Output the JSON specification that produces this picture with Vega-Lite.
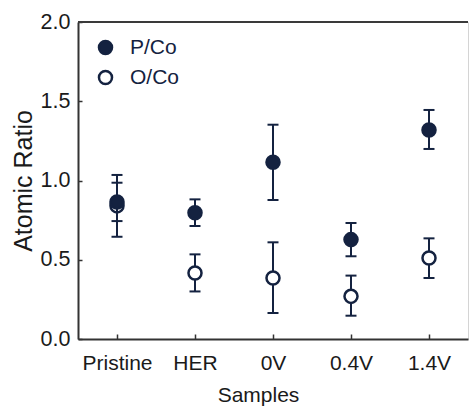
{
  "$schema": "https://vega.github.io/schema/vega-lite/v6.json",
  "width": 390,
  "height": 317,
  "autosize": {"type": "none"},
  "padding": {"left": 78, "top": 22, "right": 1, "bottom": 69},
  "config": {
    "font": "Liberation Sans",
    "view": {"stroke": "#d4d4d4", "strokeWidth": 1}
  },
  "data": {
    "values": [
      {"sample": "Pristine", "series": "P/Co", "value": 0.865, "lo": 0.744, "hi": 0.986},
      {"sample": "HER", "series": "P/Co", "value": 0.797, "lo": 0.713, "hi": 0.881},
      {"sample": "0V", "series": "P/Co", "value": 1.115, "lo": 0.877, "hi": 1.352},
      {"sample": "0.4V", "series": "P/Co", "value": 0.627, "lo": 0.522, "hi": 0.732},
      {"sample": "1.4V", "series": "P/Co", "value": 1.319, "lo": 1.199, "hi": 1.445},
      {"sample": "Pristine", "series": "O/Co", "value": 0.84, "lo": 0.645, "hi": 1.035},
      {"sample": "HER", "series": "O/Co", "value": 0.416, "lo": 0.3, "hi": 0.534},
      {"sample": "0V", "series": "O/Co", "value": 0.385, "lo": 0.164, "hi": 0.61},
      {"sample": "0.4V", "series": "O/Co", "value": 0.269, "lo": 0.147, "hi": 0.4},
      {"sample": "1.4V", "series": "O/Co", "value": 0.511, "lo": 0.385, "hi": 0.635}
    ]
  },
  "encoding": {
    "x": {
      "field": "sample",
      "type": "nominal",
      "sort": ["Pristine", "HER", "0V", "0.4V", "1.4V"],
      "scale": {"type": "point", "padding": 0.5},
      "axis": {
        "labelAngle": 0,
        "labelFontSize": 21,
        "labelColor": "#1a1a1a",
        "labelPadding": 18,
        "tickSize": -5,
        "tickColor": "#333333",
        "tickWidth": 1.5,
        "domainColor": "#333333",
        "domainWidth": 2,
        "title": "Samples",
        "titleFontSize": 21,
        "titleFontWeight": "normal",
        "titleColor": "#1a1a1a",
        "titleX": 180,
        "titlePadding": 11
      }
    }
  },
  "layer": [
    {
      "mark": {"type": "rule", "color": "#3a3a3a", "strokeWidth": 2},
      "encoding": {
        "x": null,
        "y": {
          "datum": 2,
          "type": "quantitative",
          "title": "Atomic Ratio",
          "scale": {"domain": [0, 2], "nice": false, "zero": true},
          "axis": {
            "values": [0, 0.25, 0.5, 0.75, 1, 1.25, 1.5, 1.75, 2],
            "labelExpr": "(datum.value * 2) % 1 == 0 ? format(datum.value, '.1f') : ''",
            "labelFontSize": 21.5,
            "labelColor": "#1a1a1a",
            "labelPadding": 12,
            "tickSize": -4,
            "tickColor": "#333333",
            "tickWidth": 1.5,
            "domainColor": "#333333",
            "domainWidth": 2,
            "grid": false,
            "title": "Atomic Ratio",
            "titleFontSize": 25,
            "titleFontWeight": "normal",
            "titleColor": "#1a1a1a",
            "titlePadding": 4
          }
        }
      }
    },
    {
      "transform": [{"filter": "datum.series === 'O/Co'"}],
      "mark": {"type": "rule", "color": "#142240", "strokeWidth": 2},
      "encoding": {
        "y": {"field": "lo", "type": "quantitative", "title": "Atomic Ratio"},
        "y2": {"field": "hi"}
      }
    },
    {
      "transform": [{"filter": "datum.series === 'O/Co'"}],
      "mark": {"type": "tick", "color": "#142240", "thickness": 2, "size": 11, "orient": "horizontal", "opacity": 1},
      "encoding": {"y": {"field": "lo", "type": "quantitative", "title": "Atomic Ratio"}}
    },
    {
      "transform": [{"filter": "datum.series === 'O/Co'"}],
      "mark": {"type": "tick", "color": "#142240", "thickness": 2, "size": 11, "orient": "horizontal", "opacity": 1},
      "encoding": {"y": {"field": "hi", "type": "quantitative", "title": "Atomic Ratio"}}
    },
    {
      "transform": [{"filter": "datum.series === 'O/Co'"}],
      "mark": {"type": "point", "shape": "circle", "filled": true, "stroke": "#142240", "strokeWidth": 2.5, "size": 170, "opacity": 1},
      "encoding": {
        "y": {"field": "value", "type": "quantitative", "title": "Atomic Ratio"},
        "fill": {"field": "series", "type": "nominal"}
      }
    },
    {
      "transform": [{"filter": "datum.series === 'P/Co'"}],
      "mark": {"type": "rule", "color": "#142240", "strokeWidth": 2},
      "encoding": {
        "y": {"field": "lo", "type": "quantitative", "title": "Atomic Ratio"},
        "y2": {"field": "hi"}
      }
    },
    {
      "transform": [{"filter": "datum.series === 'P/Co'"}],
      "mark": {"type": "tick", "color": "#142240", "thickness": 2, "size": 11, "orient": "horizontal", "opacity": 1},
      "encoding": {"y": {"field": "lo", "type": "quantitative", "title": "Atomic Ratio"}}
    },
    {
      "transform": [{"filter": "datum.series === 'P/Co'"}],
      "mark": {"type": "tick", "color": "#142240", "thickness": 2, "size": 11, "orient": "horizontal", "opacity": 1},
      "encoding": {"y": {"field": "hi", "type": "quantitative", "title": "Atomic Ratio"}}
    },
    {
      "transform": [{"filter": "datum.series === 'P/Co'"}],
      "mark": {"type": "point", "shape": "circle", "filled": true, "stroke": "#142240", "strokeWidth": 2.5, "size": 170, "opacity": 1},
      "encoding": {
        "y": {"field": "value", "type": "quantitative", "title": "Atomic Ratio"},
        "fill": {
          "field": "series",
          "type": "nominal",
          "scale": {"domain": ["P/Co", "O/Co"], "range": ["#142240", "#ffffff"]},
          "legend": {
            "orient": "none",
            "legendX": 17,
            "legendY": 15,
            "title": null,
            "padding": 0,
            "symbolType": "circle",
            "symbolSize": 170,
            "symbolStrokeColor": "#142240",
            "symbolStrokeWidth": 2.5,
            "labelFontSize": 21,
            "labelColor": "#142240",
            "labelOffset": 14,
            "rowPadding": 5
          }
        }
      }
    }
  ]
}
